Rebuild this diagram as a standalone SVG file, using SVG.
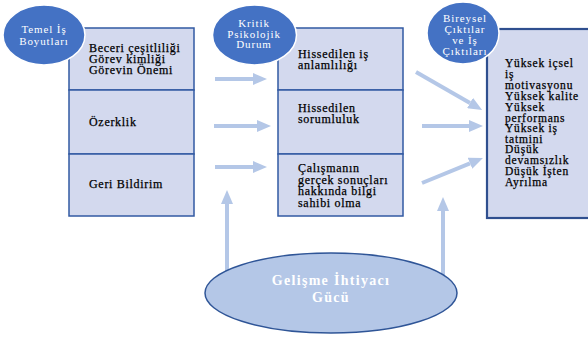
<svg xmlns="http://www.w3.org/2000/svg" width="588" height="337" viewBox="0 0 588 337">
<defs>
<style>
.box{fill:#d3d9ee;stroke:#3259a3;stroke-width:1.5}
.rbox{fill:#d3d9ee;stroke:#2f4f8f;stroke-width:2.2}
.hdr{fill:#4472c4;stroke:#ffffff;stroke-width:1.5}
.bt{font-family:"Liberation Serif","Times New Roman",serif;font-size:12px;fill:#000;stroke:#000;stroke-width:0.25px;letter-spacing:0.7px}
.rt{font-family:"Liberation Serif","Times New Roman",serif;font-size:11.5px;fill:#000;stroke:#000;stroke-width:0.25px;letter-spacing:0.8px}
.ht{font-family:"Liberation Serif","Times New Roman",serif;font-size:11px;fill:#fff;letter-spacing:0.9px;text-anchor:middle}
.gt{font-family:"Liberation Serif","Times New Roman",serif;font-size:14px;font-weight:bold;fill:#fff;letter-spacing:1.3px;text-anchor:middle}
.arr{stroke:#b4c7e7;stroke-width:4;fill:none;marker-end:url(#ah)}
</style>
<marker id="ah" markerUnits="userSpaceOnUse" markerWidth="14" markerHeight="12" refX="0" refY="6" orient="auto">
<path d="M0,0 L14,6 L0,12 Z" fill="#b4c7e7"/>
</marker>
</defs>
<rect width="588" height="337" fill="#fff"/>

<g id="temel-box">
<rect class="box" x="69" y="28" width="125" height="62"/>
<rect class="box" x="69" y="90" width="125" height="64"/>
<rect class="box" x="69" y="154" width="125" height="62"/>
<text class="bt" x="89" y="52">Beceri çeşitliliği</text>
<text class="bt" x="89" y="63">Görev kimliği</text>
<text class="bt" x="89" y="74">Görevin Önemi</text>
<text class="bt" x="89" y="126">Özerklik</text>
<text class="bt" x="89" y="188">Geri Bildirim</text>
</g>

<g id="kritik-box">
<rect class="box" x="278" y="28" width="125" height="62"/>
<rect class="box" x="278" y="90" width="125" height="64"/>
<rect class="box" x="278" y="154" width="125" height="62"/>
<text class="bt" x="298" y="58">Hissedilen iş</text>
<text class="bt" x="298" y="69">anlamlılığı</text>
<text class="bt" x="298" y="112">Hissedilen</text>
<text class="bt" x="298" y="123">sorumluluk</text>
<text class="bt" x="298" y="172">Çalışmanın</text>
<text class="bt" x="298" y="183.5">gerçek sonuçları</text>
<text class="bt" x="298" y="195">hakkında bilgi</text>
<text class="bt" x="298" y="206.5">sahibi olma</text>
</g>

<g id="bireysel-box">
<rect class="rbox" x="487" y="29" width="104" height="189"/>
<text class="rt" x="505" y="67">Yüksek içsel</text>
<text class="rt" x="505" y="78">iş</text>
<text class="rt" x="505" y="89">motivasyonu</text>
<text class="rt" x="505" y="100">Yüksek kalite</text>
<text class="rt" x="505" y="111">Yüksek</text>
<text class="rt" x="505" y="121.5">performans</text>
<text class="rt" x="505" y="132">Yüksek iş</text>
<text class="rt" x="505" y="142.5">tatmini</text>
<text class="rt" x="505" y="153">Düşük</text>
<text class="rt" x="505" y="164">devamsızlık</text>
<text class="rt" x="505" y="175">Düşük İşten</text>
<text class="rt" x="505" y="186">Ayrılma</text>
</g>

<g id="connectors">
<line class="arr" x1="215" y1="79" x2="253" y2="79"/>
<line class="arr" x1="214" y1="126" x2="257" y2="126"/>
<line class="arr" x1="215" y1="167" x2="253" y2="167"/>
<line class="arr" x1="416" y1="72" x2="470" y2="103"/>
<line class="arr" x1="422" y1="126" x2="469" y2="126"/>
<line class="arr" x1="422" y1="183" x2="470" y2="163.3"/>
<line class="arr" x1="227" y1="272" x2="227" y2="204"/>
<line class="arr" x1="443" y1="277" x2="443" y2="211"/>
</g>

<g id="temel-header">
<ellipse class="hdr" cx="44" cy="35" rx="41" ry="30"/>
<text class="ht" x="44" y="33">Temel İş</text>
<text class="ht" x="44" y="44.5">Boyutları</text>
</g>

<g id="kritik-header">
<ellipse class="hdr" cx="254.5" cy="35" rx="42" ry="30"/>
<text class="ht" x="254" y="27">Kritik</text>
<text class="ht" x="254" y="37.5">Psikolojik</text>
<text class="ht" x="254" y="48">Durum</text>
</g>

<g id="bireysel-header">
<ellipse class="hdr" cx="463" cy="33" rx="36" ry="31"/>
<text class="ht" x="465" y="21.5">Bireysel</text>
<text class="ht" x="465" y="32.5">Çıktılar</text>
<text class="ht" x="465" y="43.5">ve İş</text>
<text class="ht" x="465" y="54.5">Çıktıları</text>
</g>

<g id="gelisme">
<ellipse cx="331" cy="293" rx="126" ry="40" fill="#b4c7e7" stroke="#2f5597" stroke-width="1.5"/>
<text class="gt" x="331" y="285">Gelişme İhtiyacı</text>
<text class="gt" x="331" y="302">Gücü</text>
</g>
</svg>
